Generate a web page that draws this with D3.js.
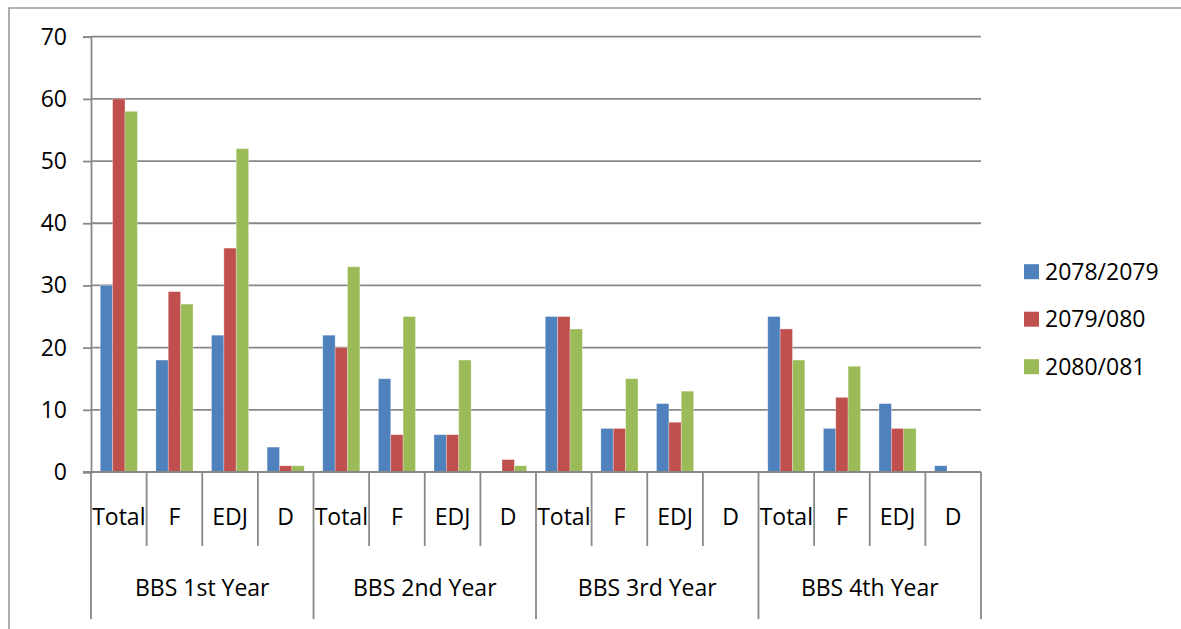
<!DOCTYPE html>
<html>
<head>
<meta charset="utf-8">
<script src="https://cdn.jsdelivr.net/npm/d3@7"></script>
<style>
  html, body { margin: 0; padding: 0; background: #fff; }
  svg { display: block; }
  text { font-family: "Open Sans", "Liberation Sans", sans-serif; fill: #000; }
</style>
</head>
<body>
<svg id="chart" width="1181" height="629"></svg>
<script>
const groups = ["BBS 1st Year", "BBS 2nd Year", "BBS 3rd Year", "BBS 4th Year"];
const subcats = ["Total", "F", "EDJ", "D"];
const seriesNames = ["2078/2079", "2079/080", "2080/081"];
const seriesColors = ["#4F81BD", "#C0504D", "#9BBB59"];
const values2078_2079 = [30, 18, 22, 4, 22, 15, 6, 0, 25, 7, 11, 0, 25, 7, 11, 1];
const values2079_080  = [60, 29, 36, 1, 20, 6, 6, 2, 25, 7, 8, 0, 23, 12, 7, 0];
const values2080_081  = [58, 27, 52, 1, 33, 25, 18, 1, 23, 15, 13, 0, 18, 17, 7, 0];
const yTicks = [0, 10, 20, 30, 40, 50, 60, 70];

(function () {
const seriesValues = [values2078_2079, values2079_080, values2080_081];

const svg = d3.select("#chart");
const W = 1181, H = 629;
const pLeft = 91, pRight = 981, pTop = 36.7, pBottom = 472;
const gridColor = "#888888";
const fs = 23;

// outer border
svg.append("path")
  .attr("d", `M9,${H} L9,8 L${W},8`)
  .attr("fill", "none").attr("stroke", "#9a9a9a").attr("stroke-width", 1.6);

// categories
const cats = [];
groups.forEach((g, gi) => subcats.forEach((s, si) => cats.push({ key: g + "|" + s, group: g, sub: s, gi, si })));

const x = d3.scaleBand().domain(cats.map(c => c.key)).range([pLeft, pRight]).padding(0);
const xInner = d3.scaleBand().domain(seriesNames).range([0, x.bandwidth()]).paddingInner(0).paddingOuter(0.75);
const y = d3.scaleLinear().domain([0, 70]).range([pBottom, pTop]);

// gridlines
svg.append("g").selectAll("line").data(yTicks.filter(t => t > 0)).join("line")
  .attr("x1", pLeft).attr("x2", pRight)
  .attr("y1", d => y(d)).attr("y2", d => y(d))
  .attr("stroke", gridColor).attr("stroke-width", 1.8);

// y axis
const yAxis = d3.axisLeft(y).tickValues(yTicks).tickSize(8).tickPadding(16).tickFormat(d3.format("d"));
const yg = svg.append("g").attr("transform", `translate(${pLeft},0)`).call(yAxis);
yg.select(".domain").attr("stroke", gridColor).attr("stroke-width", 1.8);
yg.selectAll(".tick line").attr("stroke", gridColor).attr("stroke-width", 1.8);
yg.selectAll(".tick text").attr("font-size", fs).attr("font-family", "Open Sans, sans-serif").attr("fill", "#000");

// bars
const barData = [];
seriesNames.forEach((sn, k) => {
  cats.forEach((c, i) => barData.push({ cat: c.key, series: sn, k, v: seriesValues[k][i] }));
});
svg.append("g").selectAll("rect").data(barData.filter(d => d.v > 0)).join("rect")
  .attr("x", d => x(d.cat) + xInner(d.series))
  .attr("y", d => y(d.v))
  .attr("width", xInner.bandwidth())
  .attr("height", d => y(0) - y(d.v))
  .attr("fill", d => seriesColors[d.k])
  .attr("stroke", "#ffffff").attr("stroke-opacity", 0.35).attr("stroke-width", 0.8);

// x axis baseline
svg.append("line").attr("x1", pLeft - 8).attr("x2", pRight)
  .attr("y1", y(0)).attr("y2", y(0))
  .attr("stroke", gridColor).attr("stroke-width", 1.8);

// category boundary ticks
const boundaries = d3.range(cats.length + 1);
svg.append("g").selectAll("line").data(boundaries).join("line")
  .attr("x1", i => i < cats.length ? x(cats[i].key) : pRight)
  .attr("x2", i => i < cats.length ? x(cats[i].key) : pRight)
  .attr("y1", y(0))
  .attr("y2", i => (i % subcats.length === 0) ? 619 : 546)
  .attr("stroke", gridColor).attr("stroke-width", 1.8);

// sub labels
svg.append("g").selectAll("text").data(cats).join("text")
  .attr("x", c => x(c.key) + x.bandwidth() / 2)
  .attr("y", 517)
  .attr("dy", "0.35em")
  .attr("text-anchor", "middle")
  .attr("font-size", fs)
  .text(c => c.sub);

// group labels
svg.append("g").selectAll("text").data(groups).join("text")
  .attr("x", (g, gi) => (x(cats[gi * 4].key) + x(cats[gi * 4 + 3].key) + x.bandwidth()) / 2)
  .attr("y", 588)
  .attr("dy", "0.35em")
  .attr("text-anchor", "middle")
  .attr("font-size", fs)
  .text(g => g);

// legend
const legendY = [271.7, 319.2, 366.7];
const lg = svg.append("g").selectAll("g").data(seriesNames).join("g")
  .attr("transform", (d, i) => `translate(1024,${legendY[i]})`);
lg.append("rect").attr("x", 0).attr("y", -7.5).attr("width", 15).attr("height", 15)
  .attr("fill", (d, i) => seriesColors[i]);
lg.append("text").attr("x", 21).attr("y", 0).attr("dy", "0.35em")
  .attr("font-size", fs).text(d => d);
})();
</script>
</body>
</html>
